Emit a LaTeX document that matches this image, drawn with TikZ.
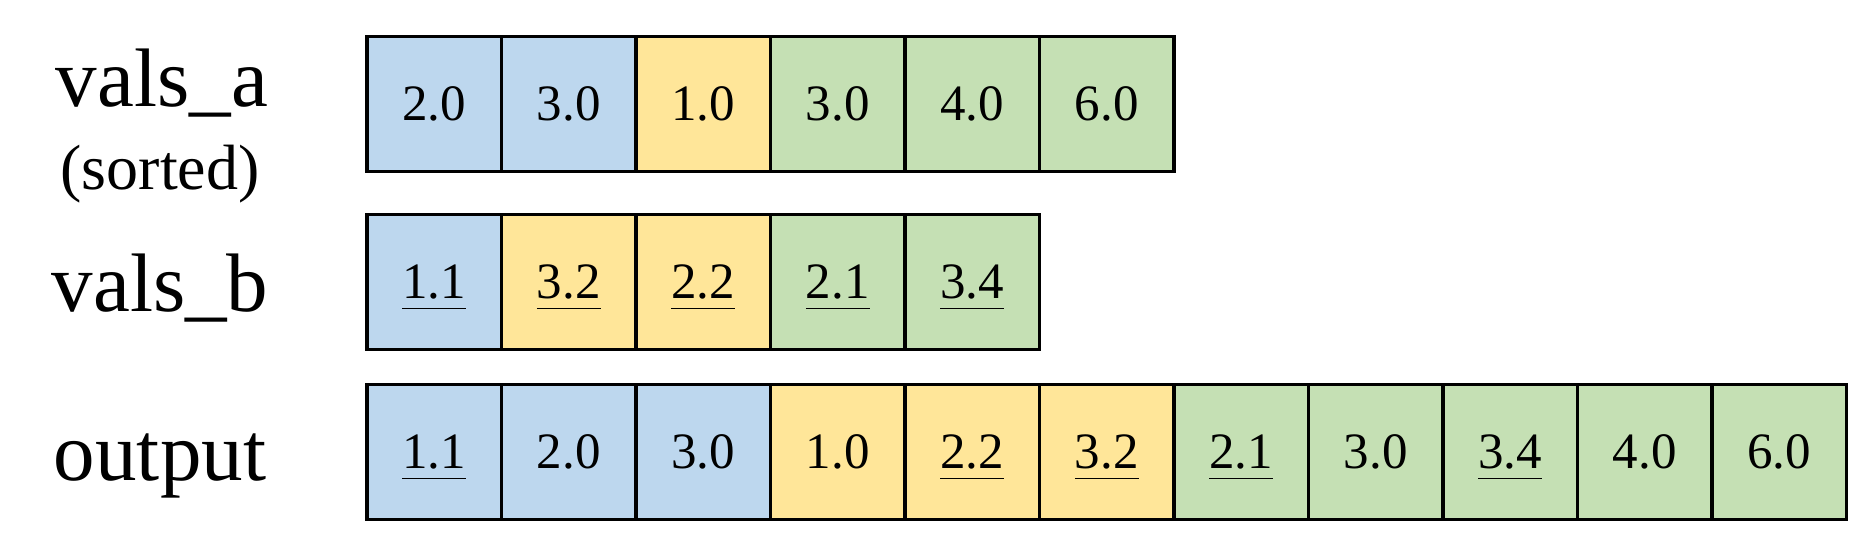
\documentclass[tikz,border=0pt]{standalone}
\usepackage{fontspec}
\setmainfont{Liberation Serif}
\usetikzlibrary{positioning}
\definecolor{cellblue}{HTML}{BDD7EE}
\definecolor{cellyellow}{HTML}{FFE699}
\definecolor{cellgreen}{HTML}{C5E0B4}
\newcommand{\undr}[1]{\setbox0=\hbox{#1}\copy0\smash{\llap{\rule[-5.4pt]{\wd0}{0.8pt}}}}
\tikzset{	node distance=0pt,
	cell/.style={
		draw,
		line width=1.65pt,
		minimum size=67.25pt,
		inner sep=0pt,
		outer sep=0pt,
		font=\fontsize{25.5}{30}\selectfont},
	bcell/.style={cell, fill=cellblue},
	ycell/.style={cell, fill=cellyellow},
	gcell/.style={cell, fill=cellgreen},
	rowname/.style={
		anchor=base,
		inner sep=0pt,
		font=\fontsize{41.5}{50}\selectfont}
}

\begin{document}
\begin{tikzpicture}[x=0.5pt, y=0.5pt]
			\useasboundingbox (0,0) rectangle (1850,552);
			% row labels
			\node[rowname] (la) at (162,445) {vals\_a};
			\node[rowname, font=\fontsize{32}{38}\selectfont] (ls) at (160,362) {(sorted)};
			\node[rowname] (lb) at (160,240.5) {vals\_b};
			\node[rowname] (lo) at (160,72) {output};
			% vals_a
			\node[bcell] (a1) at (434.25,448) {2.0};
			\node[bcell, right=of a1] (a2) {3.0};
			\node[ycell, right=of a2] (a3) {1.0};
			\node[gcell, right=of a3] (a4) {3.0};
			\node[gcell, right=of a4] (a5) {4.0};
			\node[gcell, right=of a5] (a6) {6.0};
			% vals_b
			\node[bcell] (b1) at (434.25,270) {\undr{1.1}};
			\node[ycell, right=of b1] (b2) {\undr{3.2}};
			\node[ycell, right=of b2] (b3) {\undr{2.2}};
			\node[gcell, right=of b3] (b4) {\undr{2.1}};
			\node[gcell, right=of b4] (b5) {\undr{3.4}};
			% output
			\node[bcell] (o1) at (434.25,100) {\undr{1.1}};
			\node[bcell, right=of o1] (o2) {2.0};
			\node[bcell, right=of o2] (o3) {3.0};
			\node[ycell, right=of o3] (o4) {1.0};
			\node[ycell, right=of o4] (o5) {\undr{2.2}};
			\node[ycell, right=of o5] (o6) {\undr{3.2}};
			\node[gcell, right=of o6] (o7) {\undr{2.1}};
			\node[gcell, right=of o7] (o8) {3.0};
			\node[gcell, right=of o8] (o9) {\undr{3.4}};
			\node[gcell, right=of o9] (o10) {4.0};
			\node[gcell, right=of o10] (o11) {6.0};
		\end{tikzpicture}
\end{document}
